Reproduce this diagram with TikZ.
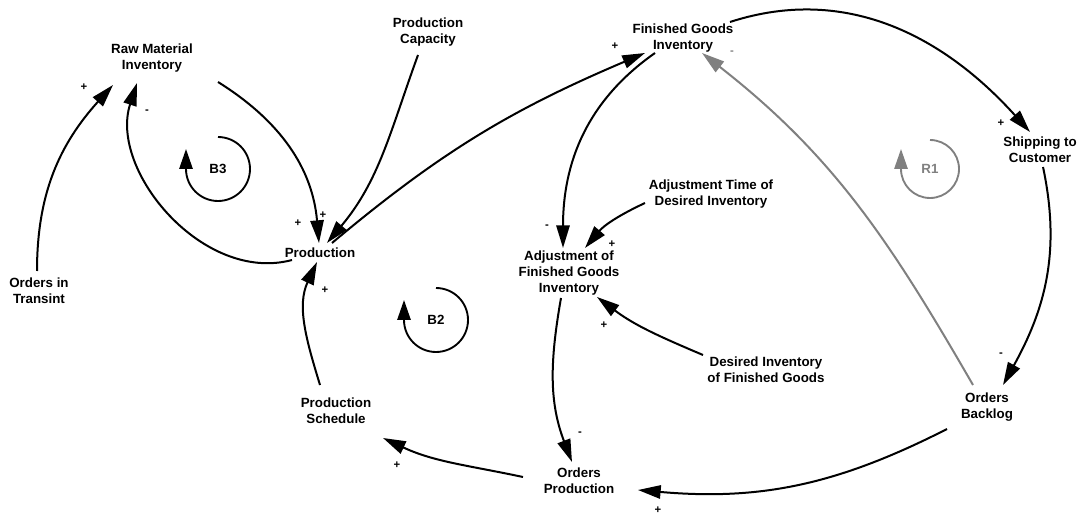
\documentclass[tikz,border=0pt]{standalone}
\usepackage{fontspec}
\setmainfont{Liberation Sans}
\usetikzlibrary{arrows.meta}

\definecolor{loopgray}{RGB}{128,128,128}

\begin{document}
\begin{tikzpicture}[
      x=0.75pt, y=0.75pt,
      var/.style={align=center, font=\bfseries, inner sep=1pt},
      sign/.style={font=\bfseries\fontsize{8.5}{9}\selectfont, inner sep=0pt},
      link/.style={draw, line width=1.5pt, -{Triangle[length=17pt,width=10pt]}},
      loopmark/.style={draw, line width=1.4pt, -{Triangle[length=15pt,width=10pt]}},
      loopname/.style={font=\bfseries},
    ]
    \useasboundingbox (0,0) rectangle (1081,-516);

    % variables
    \node[var] (rawmat)  at (152,-58)  {Raw Material\\Inventory};
    \node[var] (cap)     at (428,-32)  {Production\\Capacity};
    \node[var] (fgi)     at (683,-38)  {Finished Goods\\Inventory};
    \node[var] (ship)    at (1040,-150) {Shipping to\\Customer};
    \node[var] (transit) at (39,-291)  {Orders in\\Transint};
    \node[var] (prod)    at (320,-253) {Production};
    \node[var] (adjtime) at (711,-194) {Adjustment Time of\\Desired Inventory};
    \node[var] (adjfgi)  at (569,-273) {Adjustment of\\Finished Goods\\Inventory};
    \node[var] (desinv)  at (766,-370) {Desired Inventory\\of Finished Goods};
    \node[var] (sched)   at (336,-411) {Production\\Schedule};
    \node[var] (ordprod) at (579,-481) {Orders\\Production};
    \node[var] (backlog) at (987,-407) {Orders\\Backlog};

    % causal links
    \draw[link] ([shift={(-2,20)}]transit.center) to[out=90,in=228] ([shift={(-39,-27)}]rawmat.center);
    \draw[link] ([shift={(-28,-7)}]prod.center) to[out=195,in=-108] ([shift={(-15,-25)}]rawmat.center);
    \draw[link] ([shift={(66,-24)}]rawmat.center) to[out=-32,in=95] ([shift={(-1,10)}]prod.center);
    \draw[link] ([shift={(-10,-23)}]cap.center) to[out=-110,in=50] ([shift={(7,10)}]prod.center);
    \draw[link] ([shift={(12,10)}]prod.center) to[out=40,in=203] ([shift={(-38,-15)}]fgi.center);
    \draw[link] ([shift={(47,16)}]fgi.center) to[out=18,in=132] ([shift={(-10,18)}]ship.center);
    \draw[link] ([shift={(3,-17)}]ship.center) to[out=-78,in=61] ([shift={(16,22)}]backlog.center);
    \draw[link, loopgray] ([shift={(-14,22)}]backlog.center) to[out=120,in=-38] ([shift={(19,-15)}]fgi.center);
    \draw[link] ([shift={(-28,-15)}]fgi.center) to[out=215,in=90] ([shift={(-6,25)}]adjfgi.center);
    \draw[link] ([shift={(-66,-9)}]adjtime.center) to[out=205,in=50] ([shift={(16,25)}]adjfgi.center);
    \draw[link] ([shift={(-63,15)}]desinv.center) to[out=157,in=-37] ([shift={(28,-24)}]adjfgi.center);
    \draw[link] ([shift={(-8,-25)}]adjfgi.center) to[out=-100,in=111] ([shift={(-7,19)}]ordprod.center);
    \draw[link] ([shift={(-56,4)}]ordprod.center) to[out=168,in=-25] ([shift={(47,-27)}]sched.center);
    \draw[link] ([shift={(-40,-22)}]backlog.center) to[out=207,in=-5] ([shift={(59,-9)}]ordprod.center);
    \draw[link] ([shift={(-16,26)}]sched.center) to[out=107,in=-115] ([shift={(-3,-9)}]prod.center);

    % polarities
    \foreach \x/\y/\s [count=\i] in {84/87/+, 147/112/-, 298/223/+, 323/215/+, 615/46/+,
        1001/123/+, 1001/355/-, 547/227/-, 612/244/+, 604/325/+, 580/434/-,
        397/465/+, 658/510/+, 325/290/+}
      \node[sign] (s\i) at (\x,-\y) {\s};
    \node[sign, loopgray] (sgray) at (732,-53) {-};

    % loop markers
    \node[loopname] (b3) at (218,-169) {B3};
    \draw[loopmark] ([shift={(0,32)}]b3.center) arc[start angle=90, end angle=-180, radius=32] -- ++(0,20);
    \node[loopname] (b2) at (436,-320) {B2};
    \draw[loopmark] ([shift={(0,32)}]b2.center) arc[start angle=90, end angle=-180, radius=32] -- ++(0,20);
    \node[loopname, loopgray] (r1) at (930,-169) {R1};
    \draw[loopmark, loopgray] ([shift={(0,29)}]r1.center) arc[start angle=90, end angle=-180, radius=29] -- ++(0,20);
  \end{tikzpicture}
\end{document}
